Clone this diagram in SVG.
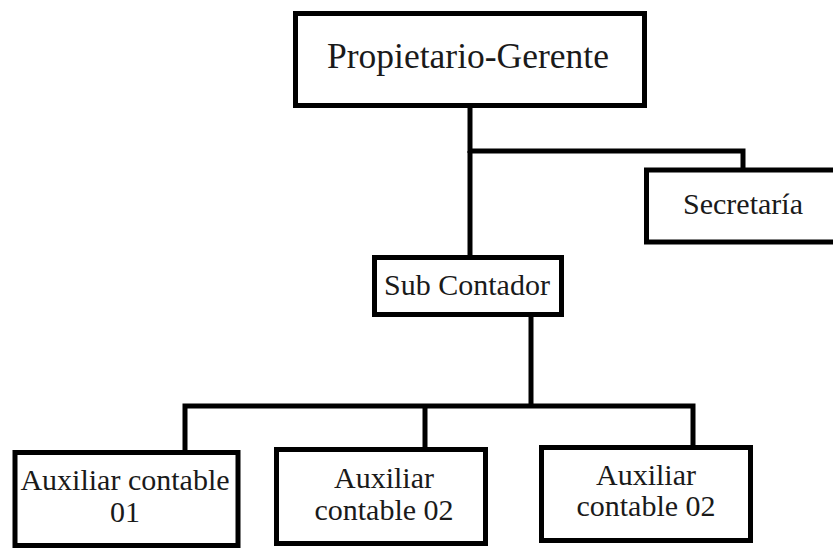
<svg xmlns="http://www.w3.org/2000/svg" width="833" height="548" viewBox="0 0 833 548">
<style>
.box{fill:#fff;stroke:#000;stroke-width:5}
.t{font-family:"Liberation Serif","Times New Roman",serif;font-size:30px;fill:#1a1a1a;text-anchor:middle}
.big{font-size:35.5px}
.c{fill:none;stroke:#000;stroke-width:5;stroke-linejoin:miter}
</style>
<rect width="833" height="548" fill="#fff"/>
<g id="connectors">
<path class="c" d="M470 106 V153"/>
<path class="c" d="M468 151 H743 V171"/>
<path class="c" d="M470 151 V258"/>
<path class="c" d="M531 315 V408"/>
<path class="c" d="M185 453 V406 H693 V449"/>
<path class="c" d="M425 406 V451"/>
</g>
<g id="propietario">
<rect class="box" x="295.5" y="13.5" width="349" height="92"/>
<text class="t big" x="468" y="68">Propietario-Gerente</text>
</g>
<g id="secretaria">
<rect class="box" x="646.5" y="170" width="200" height="72"/>
<text class="t" x="743" y="214">Secretaría</text>
</g>
<g id="subcontador">
<rect class="box" x="374.5" y="257.5" width="187" height="57"/>
<text class="t" x="467" y="295">Sub Contador</text>
</g>
<g id="aux01">
<rect class="box" x="15" y="452.5" width="223" height="93"/>
<text class="t" x="125" y="490">Auxiliar contable</text>
<text class="t" x="125" y="522">01</text>
</g>
<g id="aux02a">
<rect class="box" x="276.5" y="449.5" width="209" height="94"/>
<text class="t" x="384" y="488">Auxiliar</text>
<text class="t" x="384" y="520">contable 02</text>
</g>
<g id="aux02b">
<rect class="box" x="541.5" y="447.5" width="209" height="93"/>
<text class="t" x="646" y="485">Auxiliar</text>
<text class="t" x="646" y="516">contable 02</text>
</g>
</svg>
